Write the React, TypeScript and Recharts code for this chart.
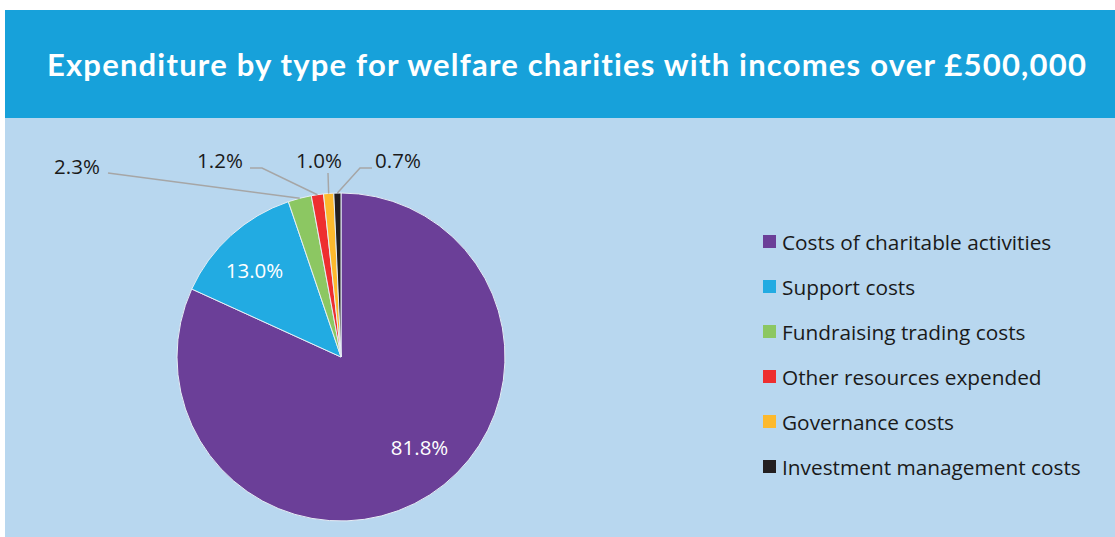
import { PieChart, Pie, Cell } from 'recharts'

const categories = [
  'Costs of charitable activities',
  'Support costs',
  'Fundraising trading costs',
  'Other resources expended',
  'Governance costs',
  'Investment management costs',
]
const shares = [81.8, 13.0, 2.3, 1.2, 1.0, 0.7]
const colors = ['#6b3f98', '#22abe2', '#8cc762', '#ee2e2f', '#fdb92d', '#231f20']

const data = categories.map((name, i) => ({ name, value: shares[i] }))

const RADIAN = Math.PI / 180
const labelFont = '"Open Sans", sans-serif'

// small nudges for the labels inside the slices
const insideNudge: Record<number, [number, number]> = {
  0: [12, -13],
  1: [-4, 4],
}

// where the outside labels sit, relative to the pie centre (Excel moved these by hand)
const outsideLabels: Record<number, { tx: number; ty: number; path: Array<[number, number]> }> = {
  2: { tx: -264, ty: -191, path: [[-233, -184]] },
  3: { tx: -121, ty: -197, path: [[-79, -189], [-91, -189]] },
  4: { tx: -22, ty: -197, path: [[-13, -184]] },
  5: { tx: 57, ty: -197, path: [[19, -189], [31, -189]] },
}

const renderLabel = (props: any) => {
  const { cx, cy, midAngle, outerRadius, index, value } = props
  const text = `${value.toFixed(1)}%`
  if (index < 2) {
    const r = outerRadius * 0.75
    const [nx, ny] = insideNudge[index]
    const x = cx + r * Math.cos(-midAngle * RADIAN) + nx
    const y = cy + r * Math.sin(-midAngle * RADIAN) + ny
    return (
      <text x={x} y={y} fill="#fff" fontSize={20.5} fontFamily={labelFont} textAnchor="middle" dominantBaseline="central">
        {text}
      </text>
    )
  }
  const cfg = outsideLabels[index]
  const ex = cx + outerRadius * Math.cos(-midAngle * RADIAN)
  const ey = cy + outerRadius * Math.sin(-midAngle * RADIAN)
  const pts = [[ex, ey], ...cfg.path.map(([px, py]) => [cx + px, cy + py])]
  return (
    <g>
      <polyline points={pts.map((p) => p.join(',')).join(' ')} fill="none" stroke="#a6a6a6" strokeWidth={1.5} />
      <text x={cx + cfg.tx} y={cy + cfg.ty} fill="#1a1a1a" fontSize={20.5} fontFamily={labelFont} textAnchor="middle" dominantBaseline="central">
        {text}
      </text>
    </g>
  )
}

export default function App() {
  return (
    <div style={{ position: 'absolute', left: 0, top: 0, width: 1115, height: 537, background: '#fff' }}>
      <div
        style={{
          position: 'absolute',
          left: 5,
          top: 10,
          width: 1110,
          height: 108,
          paddingLeft: 14,
          boxSizing: 'border-box',
          background: '#17a1da',
          color: '#fff',
          fontFamily: 'Lato, sans-serif',
          fontWeight: 700,
          fontSize: 31,
          letterSpacing: 1.2,
          display: 'flex',
          alignItems: 'center',
          justifyContent: 'center',
        }}
      >
        Expenditure by type for welfare charities with incomes over £500,000
      </div>
      <div style={{ position: 'absolute', left: 5, top: 118, width: 1110, height: 419, background: '#b8d7ef' }}>
        <PieChart width={1110} height={419} margin={{ top: 0, right: 0, bottom: 0, left: 0 }}>
          <Pie
            data={data}
            dataKey="value"
            nameKey="name"
            cx={336}
            cy={239}
            outerRadius={164}
            startAngle={90}
            endAngle={-270}
            stroke="#e6eef5"
            strokeWidth={1}
            label={renderLabel}
            labelLine={false}
            isAnimationActive={false}
          >
            {data.map((d, i) => (
              <Cell key={d.name} fill={colors[i]} />
            ))}
          </Pie>
        </PieChart>
        <div style={{ position: 'absolute', left: 758, top: 101, fontFamily: labelFont, fontSize: 20.8, color: '#1a1a1a' }}>
          {categories.map((c, i) => (
            <div key={c} style={{ display: 'flex', alignItems: 'center', height: 45 }}>
              <span style={{ width: 13, height: 13, background: colors[i], marginRight: 6 }} />
              {c}
            </div>
          ))}
        </div>
      </div>
    </div>
  )
}
